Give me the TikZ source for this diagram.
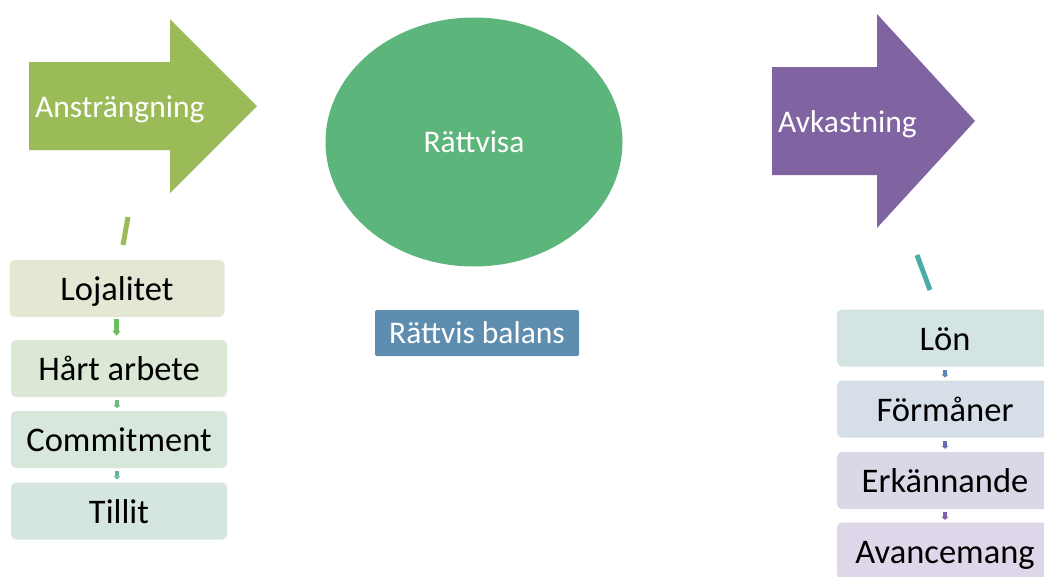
\documentclass[tikz,border=0pt]{standalone}
\usepackage{fontspec}
\setmainfont{Carlito}
\usetikzlibrary{shapes.geometric,arrows.meta,calc}
\definecolor{arrowgreen}{HTML}{9BBB59}
\definecolor{ellgreen}{HTML}{5CB57B}
\definecolor{arrowpurple}{HTML}{8064A2}
\definecolor{balblue}{HTML}{5F8DAF}
\definecolor{lconn}{HTML}{9BBB59}
\definecolor{rconn}{HTML}{4AACAA}
\definecolor{lA}{HTML}{E3E8D5}
\definecolor{lB}{HTML}{DCE8D6}
\definecolor{lC}{HTML}{D8E7DC}
\definecolor{lD}{HTML}{D5E6E0}
\definecolor{rA}{HTML}{D4E4E3}
\definecolor{rB}{HTML}{D6DEE7}
\definecolor{rC}{HTML}{DAD8E7}
\definecolor{rD}{HTML}{DED7E9}
\definecolor{sa1}{HTML}{6DBE5E}
\definecolor{sa2}{HTML}{68BE78}
\definecolor{sa3}{HTML}{5BB5A0}
\definecolor{sb1}{HTML}{5B87B8}
\definecolor{sb2}{HTML}{6A6CB0}
\definecolor{sb3}{HTML}{8060A8}
\tikzset{
  bigtext/.style={text=white,font=\fontsize{31.5}{36}\selectfont,inner sep=0pt},
  arrtext/.style={bigtext,text height=22pt,text depth=0pt},
  listbox/.style={rounded corners=5pt,minimum width=216pt,minimum height=57pt,
    font=\fontsize{34.5}{40}\selectfont,text=black,inner sep=0pt,
    text height=24pt,text depth=0pt},
  smallarr/.style={line width=4.5pt,-{Triangle[length=3pt,width=7pt]}},
  conn/.style={line width=5pt}
}
\begin{document}
\begin{tikzpicture}[x=1pt,y=-1pt]
\useasboundingbox (0,0) rectangle (1044,576);
% left big arrow
\fill[arrowgreen] (29,62) -- (170,62) -- (170,19) -- (257,106) -- (170,193) -- (170,150) -- (29,150) -- cycle;
\node[arrtext,anchor=west] (anstr) at (35,106) {Anstr\"angning};
% right big arrow
\fill[arrowpurple] (772,67) -- (877,67) -- (877,14) -- (975,121) -- (877,228) -- (877,175) -- (772,175) -- cycle;
\node[arrtext,anchor=west] (avk) at (778,121) {Avkastning};
% ellipse
\node[ellipse,fill=ellgreen,minimum width=297pt,minimum height=249pt,bigtext] (ratt) at (474,142) {R\"attvisa};
% balans box
\node[fill=balblue,rounded corners=2pt,minimum width=204pt,minimum height=46pt,bigtext] (bal) at (477,333) {R\"attvis balans};
% left list
\node[listbox,fill=lA,minimum width=215pt] (loj) at (117,288.5) {Lojalitet};
\node[listbox,fill=lB] (hart) at (119,368.5) {H\aa rt arbete};
\node[listbox,fill=lC] (comm) at (119,439.5) {Commitment};
\node[listbox,fill=lD] (till) at (119,511) {Tillit};
\coordinate (lc1) at (128,217);
\coordinate (lc2) at (123,245);
\draw[conn,lconn] (lc1) -- (lc2);
\draw[line width=5pt,sa1,-{Triangle[length=5pt,width=8pt]}] ([xshift=-0.5pt,yshift=-2pt]loj.south) -- ([xshift=-2.5pt,yshift=4pt]hart.north);
\draw[smallarr,sa2] ([xshift=-2pt,yshift=4pt]$(hart.south)!.5!(comm.north)$) -- ([xshift=-2pt,yshift=-4pt]$(hart.south)!.5!(comm.north)$);
\draw[smallarr,sa3] ([xshift=-2pt,yshift=4pt]$(comm.south)!.5!(till.north)$) -- ([xshift=-2pt,yshift=-4pt]$(comm.south)!.5!(till.north)$);
% right list
\node[listbox,fill=rA] (lon) at (945,338) {L\"on};
\node[listbox,fill=rB] (form) at (945,409) {F\"orm\aa ner};
\node[listbox,fill=rC] (erk) at (945,480.5) {Erk\"annande};
\node[listbox,fill=rD] (avan) at (945,551) {Avancemang};
\coordinate (rc1) at (917,255);
\coordinate (rc2) at (930,290);
\draw[conn,rconn] (rc1) -- (rc2);
\draw[smallarr,sb1] ([yshift=4pt]$(lon.south)!.5!(form.north)$) -- ([yshift=-4pt]$(lon.south)!.5!(form.north)$);
\draw[smallarr,sb2] ([yshift=4pt]$(form.south)!.5!(erk.north)$) -- ([yshift=-4pt]$(form.south)!.5!(erk.north)$);
\draw[smallarr,sb3] ([yshift=4pt]$(erk.south)!.5!(avan.north)$) -- ([yshift=-4pt]$(erk.south)!.5!(avan.north)$);
\end{tikzpicture}
\end{document}
